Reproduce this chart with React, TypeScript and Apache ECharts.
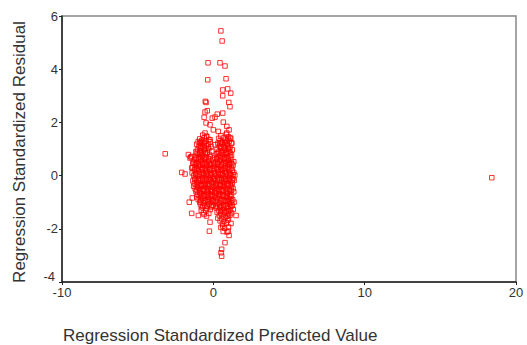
import React, { useEffect, useRef } from "react";
import * as echarts from "echarts";

const xTicks = { min: -10, max: 20, interval: 10 };
const yTicks = { min: -4, max: 6, interval: 2 };
const xTitle = "Regression Standardized Predicted Value";
const yTitle = "Regression Standardized Residual";

// Isolated / sparse points
const outliers: [number, number][] = [
  [-3.18, 0.82], [18.4, -0.08],
  [0.5, 5.44], [0.58, 5.06],
  [-0.35, 4.24], [0.44, 4.24], [0.77, 4.12],
  [-0.37, 3.6], [0.84, 3.64],
  [0.62, 3.22], [0.95, 3.26], [1.15, 3.1], [0.62, 3.0],
  [-0.53, 2.79], [1.02, 2.75], [1.1, 2.59], [-0.48, 2.75],
  [-0.55, 2.39], [-0.4, 2.44], [0.26, 2.31], [0.62, 2.35],
  [-0.07, 2.16], [0.11, 2.2], [-0.61, 2.19], [-0.48, 1.98],
  [0.66, 2.01], [0.89, 1.85], [1.04, 1.72], [-0.22, 1.91], [0.0, 1.72],
  [0.33, 1.66], [-0.55, 1.6], [-0.44, 1.47], [0.89, 1.6], [1.1, 1.41],
  [1.22, 1.23], [-0.77, 1.29], [-0.88, 1.1], [-0.22, 1.35], [0.11, 1.16],
  [0.44, 1.23], [-0.88, 0.85], [-1.43, 0.72], [-1.54, 0.66],
  [-1.65, 0.79], [-1.49, 0.7], [-2.09, 0.12], [-1.87, 0.06],
  [-1.36, 0.47], [-1.43, 0.29],
  [-1.59, -1.0], [-1.39, -0.84], [-1.43, -1.42], [-0.99, -1.5],
  [-0.61, -1.46], [-0.22, -1.75], [-0.26, -2.09], [1.17, -1.8],
  [1.5, -1.5], [0.77, -2.52], [1.04, -2.25], [0.55, -2.77],
  [0.51, -2.9], [0.55, -3.03], [0.99, -2.09], [0.62, -1.9],
  [1.32, -1.27], [1.37, -1.0],
];

// Dense core of the cloud
const core: [number, number][] = [
  [-0.7, 1.52], [-0.45, 1.48], [0.5, 1.5], [0.85, 1.55], [1.0, 1.46],
  [-0.9, 1.38], [-0.6, 1.42], [-0.3, 1.36], [0.35, 1.4], [0.7, 1.43], [0.95, 1.37], [1.15, 1.41],
  [-1.0, 1.28], [-0.75, 1.32], [-0.5, 1.3], [-0.2, 1.27], [0.45, 1.31], [0.6, 1.26], [0.8, 1.33], [1.05, 1.29],
  [-1.1, 1.18], [-0.85, 1.22], [-0.6, 1.2], [-0.35, 1.17], [0.3, 1.21], [0.55, 1.19], [0.75, 1.23], [0.95, 1.16], [1.2, 1.2],
  [-0.95, 1.1], [-0.7, 1.08], [-0.45, 1.12], [-0.15, 1.09], [0.4, 1.1], [0.65, 1.07], [0.9, 1.12], [1.1, 1.06],
  [-1.05, 0.98], [-0.8, 1.02], [-0.55, 0.97], [-0.3, 1.01], [0.25, 0.99], [0.5, 1.03], [0.72, 0.96], [0.98, 1.0], [1.25, 0.97],
  [-1.15, 0.9], [-0.9, 0.88], [-0.65, 0.92], [-0.4, 0.87], [-0.1, 0.91], [0.35, 0.89], [0.6, 0.93], [0.85, 0.88], [1.05, 0.92],
  [-1.0, 0.8], [-0.75, 0.78], [-0.5, 0.82], [-0.25, 0.79], [0.2, 0.81], [0.45, 0.77], [0.7, 0.8], [0.95, 0.83], [1.2, 0.78],
  [-1.2, 0.7], [-0.95, 0.68], [-0.7, 0.72], [-0.45, 0.69], [-0.2, 0.71], [0.1, 0.68], [0.35, 0.72], [0.6, 0.7], [0.85, 0.67], [1.1, 0.71],
  [-1.25, 0.6], [-1.0, 0.62], [-0.8, 0.58], [-0.55, 0.61], [-0.3, 0.57], [0.0, 0.6], [0.25, 0.62], [0.5, 0.58], [0.75, 0.61], [0.98, 0.57], [1.2, 0.6],
  [-1.3, 0.5], [-1.1, 0.48], [-0.85, 0.52], [-0.6, 0.49], [-0.35, 0.51], [-0.1, 0.47], [0.15, 0.5], [0.4, 0.53], [0.65, 0.48], [0.9, 0.51], [1.15, 0.49], [1.35, 0.52],
  [-1.2, 0.4], [-0.95, 0.38], [-0.7, 0.42], [-0.45, 0.39], [-0.2, 0.41], [0.05, 0.38], [0.3, 0.42], [0.55, 0.4], [0.8, 0.37], [1.05, 0.41], [1.3, 0.39],
  [-1.35, 0.3], [-1.1, 0.28], [-0.85, 0.32], [-0.6, 0.29], [-0.35, 0.31], [-0.1, 0.27], [0.2, 0.3], [0.45, 0.33], [0.7, 0.28], [0.95, 0.31], [1.2, 0.29],
  [-1.25, 0.2], [-1.0, 0.18], [-0.75, 0.22], [-0.5, 0.19], [-0.25, 0.21], [0.0, 0.18], [0.25, 0.22], [0.5, 0.2], [0.75, 0.17], [1.0, 0.21], [1.25, 0.19],
  [-1.4, 0.1], [-1.15, 0.08], [-0.9, 0.12], [-0.65, 0.09], [-0.4, 0.11], [-0.15, 0.07], [0.1, 0.1], [0.35, 0.13], [0.6, 0.08], [0.85, 0.11], [1.1, 0.09], [1.35, 0.12],
  [-1.3, 0.0], [-1.05, -0.02], [-0.8, 0.02], [-0.55, -0.01], [-0.3, 0.01], [-0.05, -0.03], [0.2, 0.0], [0.45, 0.03], [0.7, -0.02], [0.95, 0.01], [1.2, -0.01], [1.42, 0.02],
  [-1.2, -0.1], [-0.95, -0.12], [-0.7, -0.08], [-0.45, -0.11], [-0.2, -0.09], [0.05, -0.12], [0.3, -0.08], [0.55, -0.1], [0.8, -0.13], [1.05, -0.09], [1.3, -0.11],
  [-1.35, -0.2], [-1.1, -0.22], [-0.85, -0.18], [-0.6, -0.21], [-0.35, -0.19], [-0.1, -0.23], [0.15, -0.2], [0.4, -0.17], [0.65, -0.22], [0.9, -0.19], [1.15, -0.21], [1.38, -0.18],
  [-1.25, -0.3], [-1.0, -0.28], [-0.75, -0.32], [-0.5, -0.29], [-0.25, -0.31], [0.0, -0.27], [0.25, -0.3], [0.5, -0.33], [0.75, -0.28], [1.0, -0.31], [1.25, -0.29],
  [-1.3, -0.4], [-1.05, -0.42], [-0.8, -0.38], [-0.55, -0.41], [-0.3, -0.39], [-0.05, -0.43], [0.2, -0.4], [0.45, -0.37], [0.7, -0.42], [0.95, -0.39], [1.2, -0.41],
  [-1.2, -0.5], [-0.95, -0.48], [-0.7, -0.52], [-0.45, -0.49], [-0.2, -0.51], [0.05, -0.47], [0.3, -0.5], [0.55, -0.53], [0.8, -0.48], [1.05, -0.51], [1.3, -0.49],
  [-1.15, -0.6], [-0.9, -0.62], [-0.65, -0.58], [-0.4, -0.61], [-0.15, -0.59], [0.1, -0.63], [0.35, -0.6], [0.6, -0.57], [0.85, -0.62], [1.1, -0.59], [1.35, -0.61],
  [-1.05, -0.7], [-0.8, -0.68], [-0.55, -0.72], [-0.3, -0.69], [-0.05, -0.71], [0.2, -0.67], [0.45, -0.7], [0.7, -0.73], [0.95, -0.68], [1.2, -0.71],
  [-1.1, -0.8], [-0.85, -0.82], [-0.6, -0.78], [-0.35, -0.81], [-0.1, -0.79], [0.15, -0.83], [0.4, -0.8], [0.65, -0.77], [0.9, -0.82], [1.15, -0.79],
  [-1.0, -0.9], [-0.75, -0.88], [-0.5, -0.92], [-0.25, -0.89], [0.0, -0.91], [0.3, -0.87], [0.55, -0.9], [0.8, -0.93], [1.05, -0.88], [1.28, -0.91],
  [-0.9, -1.0], [-0.65, -1.02], [-0.4, -0.98], [-0.15, -1.01], [0.1, -0.99], [0.4, -1.03], [0.65, -1.0], [0.9, -0.97], [1.15, -1.02],
  [-0.85, -1.1], [-0.55, -1.12], [-0.3, -1.08], [0.0, -1.11], [0.3, -1.09], [0.55, -1.13], [0.8, -1.1], [1.05, -1.07], [1.25, -1.12],
  [-0.75, -1.2], [-0.45, -1.22], [-0.15, -1.18], [0.2, -1.21], [0.45, -1.19], [0.7, -1.23], [0.95, -1.2], [1.15, -1.17],
  [-0.8, -1.3], [-0.5, -1.32], [-0.2, -1.28], [0.35, -1.31], [0.6, -1.29], [0.85, -1.33], [1.1, -1.3],
  [-0.65, -1.4], [-0.3, -1.42], [0.25, -1.38], [0.5, -1.41], [0.75, -1.39], [1.0, -1.43], [1.2, -1.4],
  [-0.45, -1.52], [0.4, -1.5], [0.65, -1.48], [0.9, -1.53], [1.1, -1.49],
  [0.3, -1.6], [0.55, -1.62], [0.8, -1.58], [1.0, -1.61],
  [0.45, -1.7], [0.7, -1.72], [0.95, -1.68],
  [0.6, -1.82], [0.85, -1.79],
  [0.5, -1.95], [0.75, -1.98], [1.0, -1.93],
  [0.65, -2.1], [0.9, -2.12],
];

// Extra points filling the densest part of the cloud
const coreFill: [number, number][] = [
  [-0.88, 1.25], [-0.62, 1.24], [0.52, 1.25], [0.88, 1.24],
  [-0.83, 1.05], [-0.58, 1.04], [-0.33, 1.06], [0.48, 1.05], [0.78, 1.04], [1.02, 1.05],
  [-1.08, 0.85], [-0.78, 0.84], [-0.53, 0.86], [0.28, 0.85], [0.58, 0.84], [0.82, 0.86], [1.12, 0.85],
  [-1.12, 0.65], [-0.83, 0.64], [-0.58, 0.66], [-0.33, 0.65], [0.22, 0.64], [0.48, 0.66], [0.72, 0.65], [0.97, 0.64],
  [-1.18, 0.45], [-0.98, 0.44], [-0.73, 0.46], [-0.48, 0.45], [-0.23, 0.44], [0.03, 0.46], [0.28, 0.45], [0.53, 0.44], [0.78, 0.46], [1.03, 0.45], [1.22, 0.44],
  [-1.22, 0.25], [-0.98, 0.24], [-0.73, 0.26], [-0.48, 0.25], [-0.23, 0.24], [0.08, 0.26], [0.33, 0.25], [0.58, 0.24], [0.83, 0.26], [1.08, 0.25],
  [-1.18, 0.05], [-0.93, 0.04], [-0.68, 0.06], [-0.43, 0.05], [-0.18, 0.04], [0.08, 0.06], [0.33, 0.05], [0.58, 0.04], [0.83, 0.06], [1.08, 0.05], [1.3, 0.04],
  [-1.22, -0.15], [-0.98, -0.16], [-0.73, -0.14], [-0.48, -0.15], [-0.23, -0.16], [0.03, -0.14], [0.28, -0.15], [0.53, -0.16], [0.78, -0.14], [1.03, -0.15], [1.25, -0.16],
  [-1.12, -0.35], [-0.88, -0.36], [-0.63, -0.34], [-0.38, -0.35], [-0.13, -0.36], [0.13, -0.34], [0.38, -0.35], [0.63, -0.36], [0.88, -0.34], [1.12, -0.35],
  [-1.08, -0.55], [-0.83, -0.56], [-0.58, -0.54], [-0.33, -0.55], [-0.08, -0.56], [0.18, -0.54], [0.43, -0.55], [0.68, -0.56], [0.93, -0.54], [1.18, -0.55],
  [-0.93, -0.75], [-0.68, -0.76], [-0.43, -0.74], [-0.18, -0.75], [0.08, -0.76], [0.33, -0.74], [0.58, -0.75], [0.83, -0.76], [1.08, -0.74],
  [-0.83, -0.95], [-0.58, -0.96], [-0.33, -0.94], [-0.05, -0.95], [0.2, -0.96], [0.48, -0.94], [0.73, -0.95], [0.98, -0.96], [1.2, -0.94],
  [-0.7, -1.15], [-0.4, -1.16], [-0.1, -1.14], [0.18, -1.15], [0.43, -1.16], [0.68, -1.14], [0.93, -1.15], [1.15, -1.16],
  [0.48, -1.35], [0.73, -1.36], [0.98, -1.34],
];

const FONT = "'Liberation Sans', Arial, sans-serif";

export default function App() {
  const ref = useRef<HTMLDivElement>(null);
  useEffect(() => {
    if (!ref.current) return;
    const chart = echarts.init(ref.current, undefined, { renderer: "svg" });
    chart.setOption({
      animation: false,
      backgroundColor: "#ffffff",
      grid: {
        left: 62,
        top: 16,
        right: 11,
        bottom: 63,
        show: true,
        borderColor: "#888888",
        borderWidth: 1.5,
        backgroundColor: "transparent",
      },
      xAxis: {
        type: "value",
        min: xTicks.min,
        max: xTicks.max,
        interval: xTicks.interval,
        splitLine: { show: false },
        axisLine: { show: true, onZero: false, lineStyle: { color: "#222", width: 1.5 } },
        axisTick: { show: true, length: 3, lineStyle: { color: "#222" } },
        axisLabel: { color: "#333", fontSize: 13, fontFamily: FONT, margin: 4 },
      },
      yAxis: {
        type: "value",
        min: yTicks.min,
        max: yTicks.max,
        interval: yTicks.interval,
        splitLine: { show: false },
        axisLine: { show: true, onZero: false, lineStyle: { color: "#222", width: 1.5 } },
        axisTick: { show: true, length: 3, lineStyle: { color: "#222" } },
        axisLabel: {
          color: "#333",
          fontSize: 13,
          fontFamily: FONT,
          margin: 4,
          formatter: (v: number) => (v === yTicks.min ? "" : String(v)),
        },
      },
      graphic: [
        {
          type: "text",
          left: 63,
          top: 327,
          style: { text: xTitle, fill: "#333", font: `17px ${FONT}` },
        },
        {
          type: "text",
          x: 19,
          y: 152,
          rotation: Math.PI / 2,
          style: {
            text: yTitle,
            fill: "#333",
            font: `17px ${FONT}`,
            align: "center",
            verticalAlign: "middle",
          },
        },
        {
          type: "text",
          x: 55,
          y: 276,
          style: {
            text: String(yTicks.min),
            fill: "#333",
            font: `13px ${FONT}`,
            align: "right",
            verticalAlign: "middle",
          },
        },
      ],
      series: [
        {
          type: "scatter",
          symbol: "rect",
          symbolSize: 4.5,
          data: [...core, ...coreFill, ...outliers],
          itemStyle: { color: "rgba(255,255,255,0)", borderColor: "#ff0000", borderWidth: 1 },
        },
      ],
    });
    return () => chart.dispose();
  }, []);
  return <div ref={ref} style={{ width: 527, height: 345, position: "absolute", left: 0, top: 0 }} />;
}
